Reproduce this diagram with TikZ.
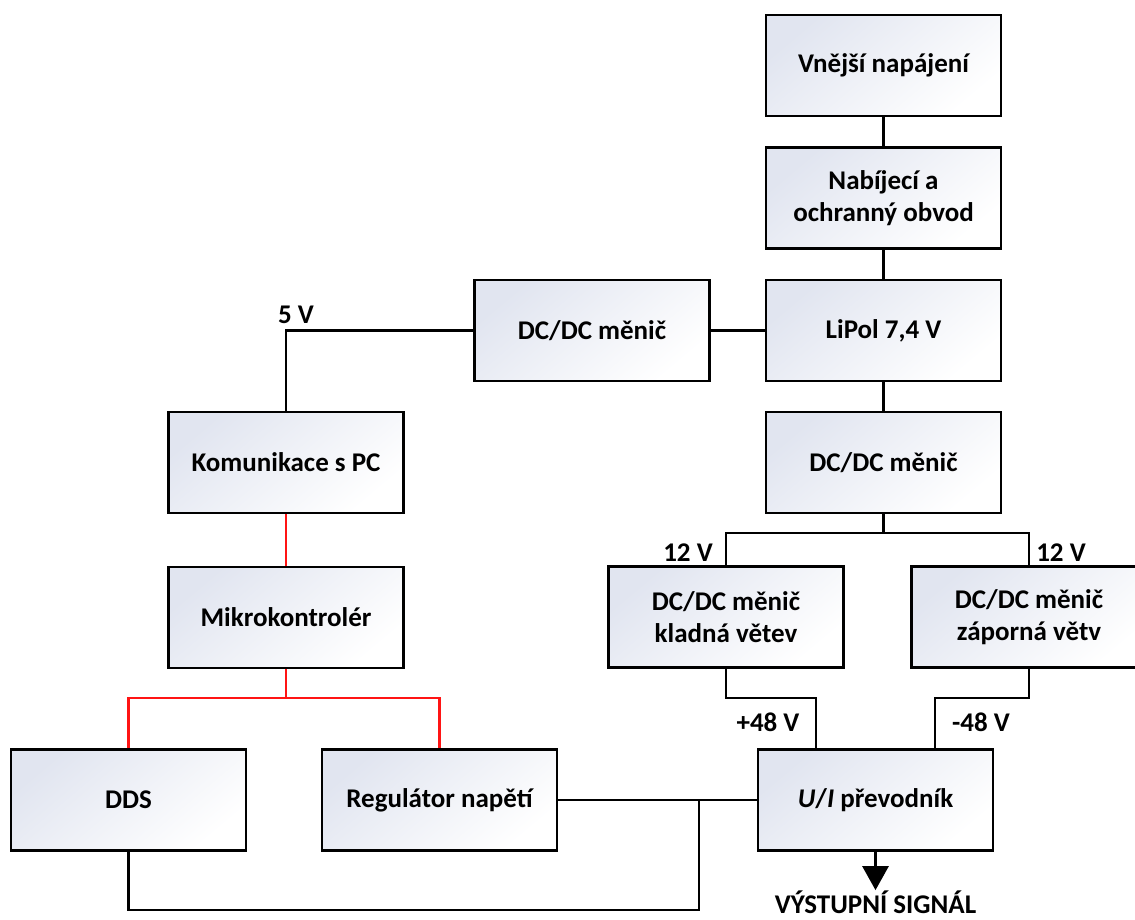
\documentclass[tikz,border=0pt]{standalone}
\usepackage{fontspec}
\setmainfont{Carlito}
\usetikzlibrary{arrows.meta}

\definecolor{boxshade}{HTML}{E1E5F0}
\definecolor{wirered}{HTML}{FF1414}

\begin{document}
\begin{tikzpicture}[x=1pt, y=-1pt,
	blok/.style={draw, line width=2.5pt, top color=boxshade, bottom color=white, shading angle=40,
		minimum width=235pt, minimum height=101pt, align=center, font=\fontsize{27}{32}\selectfont\bfseries},
	popis/.style={font=\fontsize{27}{32}\selectfont\bfseries, inner sep=0pt},
	vodic/.style={line width=2.8pt},
	datovy/.style={line width=2.8pt, draw=wirered}]
		\useasboundingbox (0,0) rectangle (1135,919);

		% napajeni
		\node[blok] (ext) at (883.5,65.5) {Vnější napájení};
		\node[blok] (charge) at (883.5,198) {Nabíjecí a\\ochranný obvod};
		\node[blok] (lipol) at (883.5,330.5) {LiPol 7,4 V};
		\node[blok] (dcmid) at (592,330.5) {DC/DC měnič};
		\node[blok] (dcmain) at (883.5,462.5) {DC/DC měnič};
		\node[blok] (dcpos) at (726,617) {DC/DC měnič\\kladná větev};
		\node[blok] (dcneg) at (1029,617) {DC/DC měnič\\záporná větv};

		% rizeni
		\node[blok] (kom) at (286,462.5) {Komunikace s PC};
		\node[blok] (mcu) at (286,617.5) {Mikrokontrolér};
		\node[blok] (dds) at (128.5,800) {DDS};
		\node[blok] (reg) at (439.5,800) {Regulátor napětí};
		\node[blok] (conv) at (875.5,800) {\textit{U}/\textit{I} převodník};

		\node[popis, anchor=base] (out) at (875.5,913) {VÝSTUPNÍ SIGNÁL};

		\node[popis] (l5) at (296,315) {5 V};
		\node[popis] (l12a) at (688,553) {12 V};
		\node[popis] (l12b) at (1061,553) {12 V};
		\node[popis] (lplus) at (768,722) {+48 V};
		\node[popis] (lminus) at (981,722) {-48 V};

		\coordinate (split) at (883.5,533);
		\coordinate (plus) at (816,698);
		\coordinate (minus) at (935,698);
		\coordinate (rbus) at (286,698);
		\coordinate (join) at (699,800);
		\coordinate (loop) at (699,910);

		\draw[vodic] (ext) -- (charge);
		\draw[vodic] (charge) -- (lipol);
		\draw[vodic] (lipol) -- (dcmain);
		\draw[vodic] (dcmid) -- (lipol);
		\draw[vodic] (dcmid.west) -| (kom.north);
		\draw[vodic] (dcmain.south) -- (split);
		\draw[vodic] (dcpos.north) |- (split) -| (dcneg.north);
		\draw[vodic] (dcpos.south) |- (plus) -- (plus |- conv.north);
		\draw[vodic] (dcneg.south) |- (minus) -- (minus |- conv.north);

		\draw[datovy] (kom) -- (mcu);
		\draw[datovy] (mcu.south) -- (rbus);
		\draw[datovy] (dds.north) |- (rbus) -| (reg.north);

		\draw[vodic] (reg) -- (conv);
		\draw[vodic] (dds.south) |- (loop) -- (join);
		\draw[vodic, -{Triangle[width=26pt, length=24pt]}] (conv.south) -- (out.north);
\end{tikzpicture}
\end{document}
